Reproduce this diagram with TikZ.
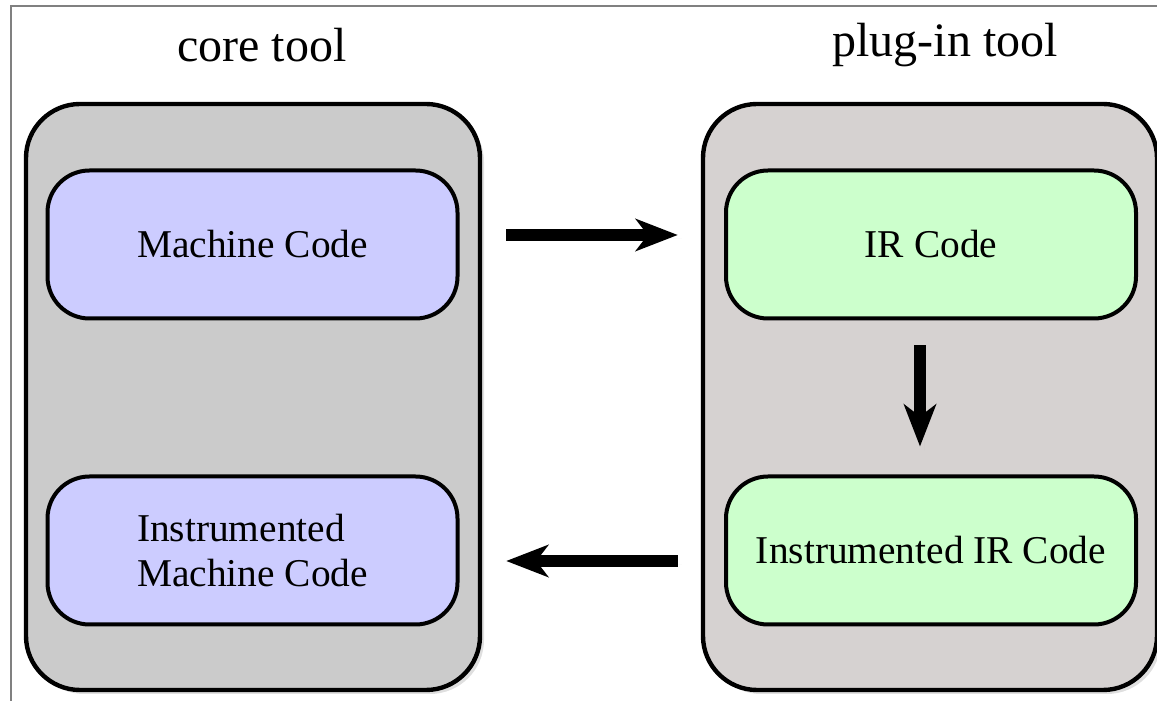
\documentclass[tikz,border=0pt]{standalone}
\usepackage{fontspec}
\setmainfont{Liberation Serif}
\usetikzlibrary{arrows.meta,calc,shadows}
\definecolor{coregray}{HTML}{CBCBCB}
\definecolor{pluggray}{HTML}{D6D2D1}
\definecolor{codeblue}{HTML}{CCCCFF}
\definecolor{codegreen}{HTML}{CCFFCC}
\tikzset{
  toolbox/.style={draw, line width=2.2pt, rounded corners=27pt, inner sep=0pt,
    minimum width=227pt, minimum height=293pt,
    drop shadow={shadow xshift=2pt, shadow yshift=-2pt, opacity=0.25}},
  codebox/.style={draw, line width=2pt, rounded corners=21pt, inner sep=0pt,
    minimum width=205pt, minimum height=74pt, align=left,
    font=\fontsize{19.7}{22.5}\selectfont},
  tooltitle/.style={font=\fontsize{24}{28}\selectfont},
  flow/.style={line width=6pt, -{Stealth[length=21pt, width=16pt, inset=6pt]},
    drop shadow={shadow xshift=2pt, shadow yshift=-2pt, opacity=0.25}}
}
\begin{document}
\begin{tikzpicture}[x=0.5pt,y=0.5pt]
  \useasboundingbox (0,0) rectangle (1157,701);
  \clip (0,0) rectangle (1157,701);
%
  \draw[gray, line width=0.6pt] (11,-10) -- (11,695) -- (1170,695);
%
  \node[tooltitle] (coreT) at (262,656) {core tool};
  \node[tooltitle] (plugT) at (945,656) {plug-in tool};
%
  \node[toolbox, fill=coregray] (core) at (253,304) {};
  \node[toolbox, fill=pluggray] (plug) at (930,304) {};
%
  \node[codebox, fill=codeblue] (mc) at (252.5,456.5) {Machine Code};
  \node[codebox, fill=codeblue] (imc) at (252.5,150.5) {Instrumented\\Machine Code};
  \node[codebox, fill=codegreen] (ir) at (931,456.5) {IR Code};
  \node[codebox, fill=codegreen] (iir) at (931,150.5) {Instrumented IR Code};
%
  \draw[flow] ($(core.east |- mc)+(24,9.5)$) -- ($(plug.west |- mc)+(-23,9.5)$);
  \draw[flow] ($(plug.west |- iir)+(-23,-10.5)$) -- ($(core.east |- imc)+(24,-10.5)$);
  \draw[flow] ($(ir.south)+(-11,-25)$) -- ($(iir.north)+(-11,28)$);
\end{tikzpicture}
\end{document}
